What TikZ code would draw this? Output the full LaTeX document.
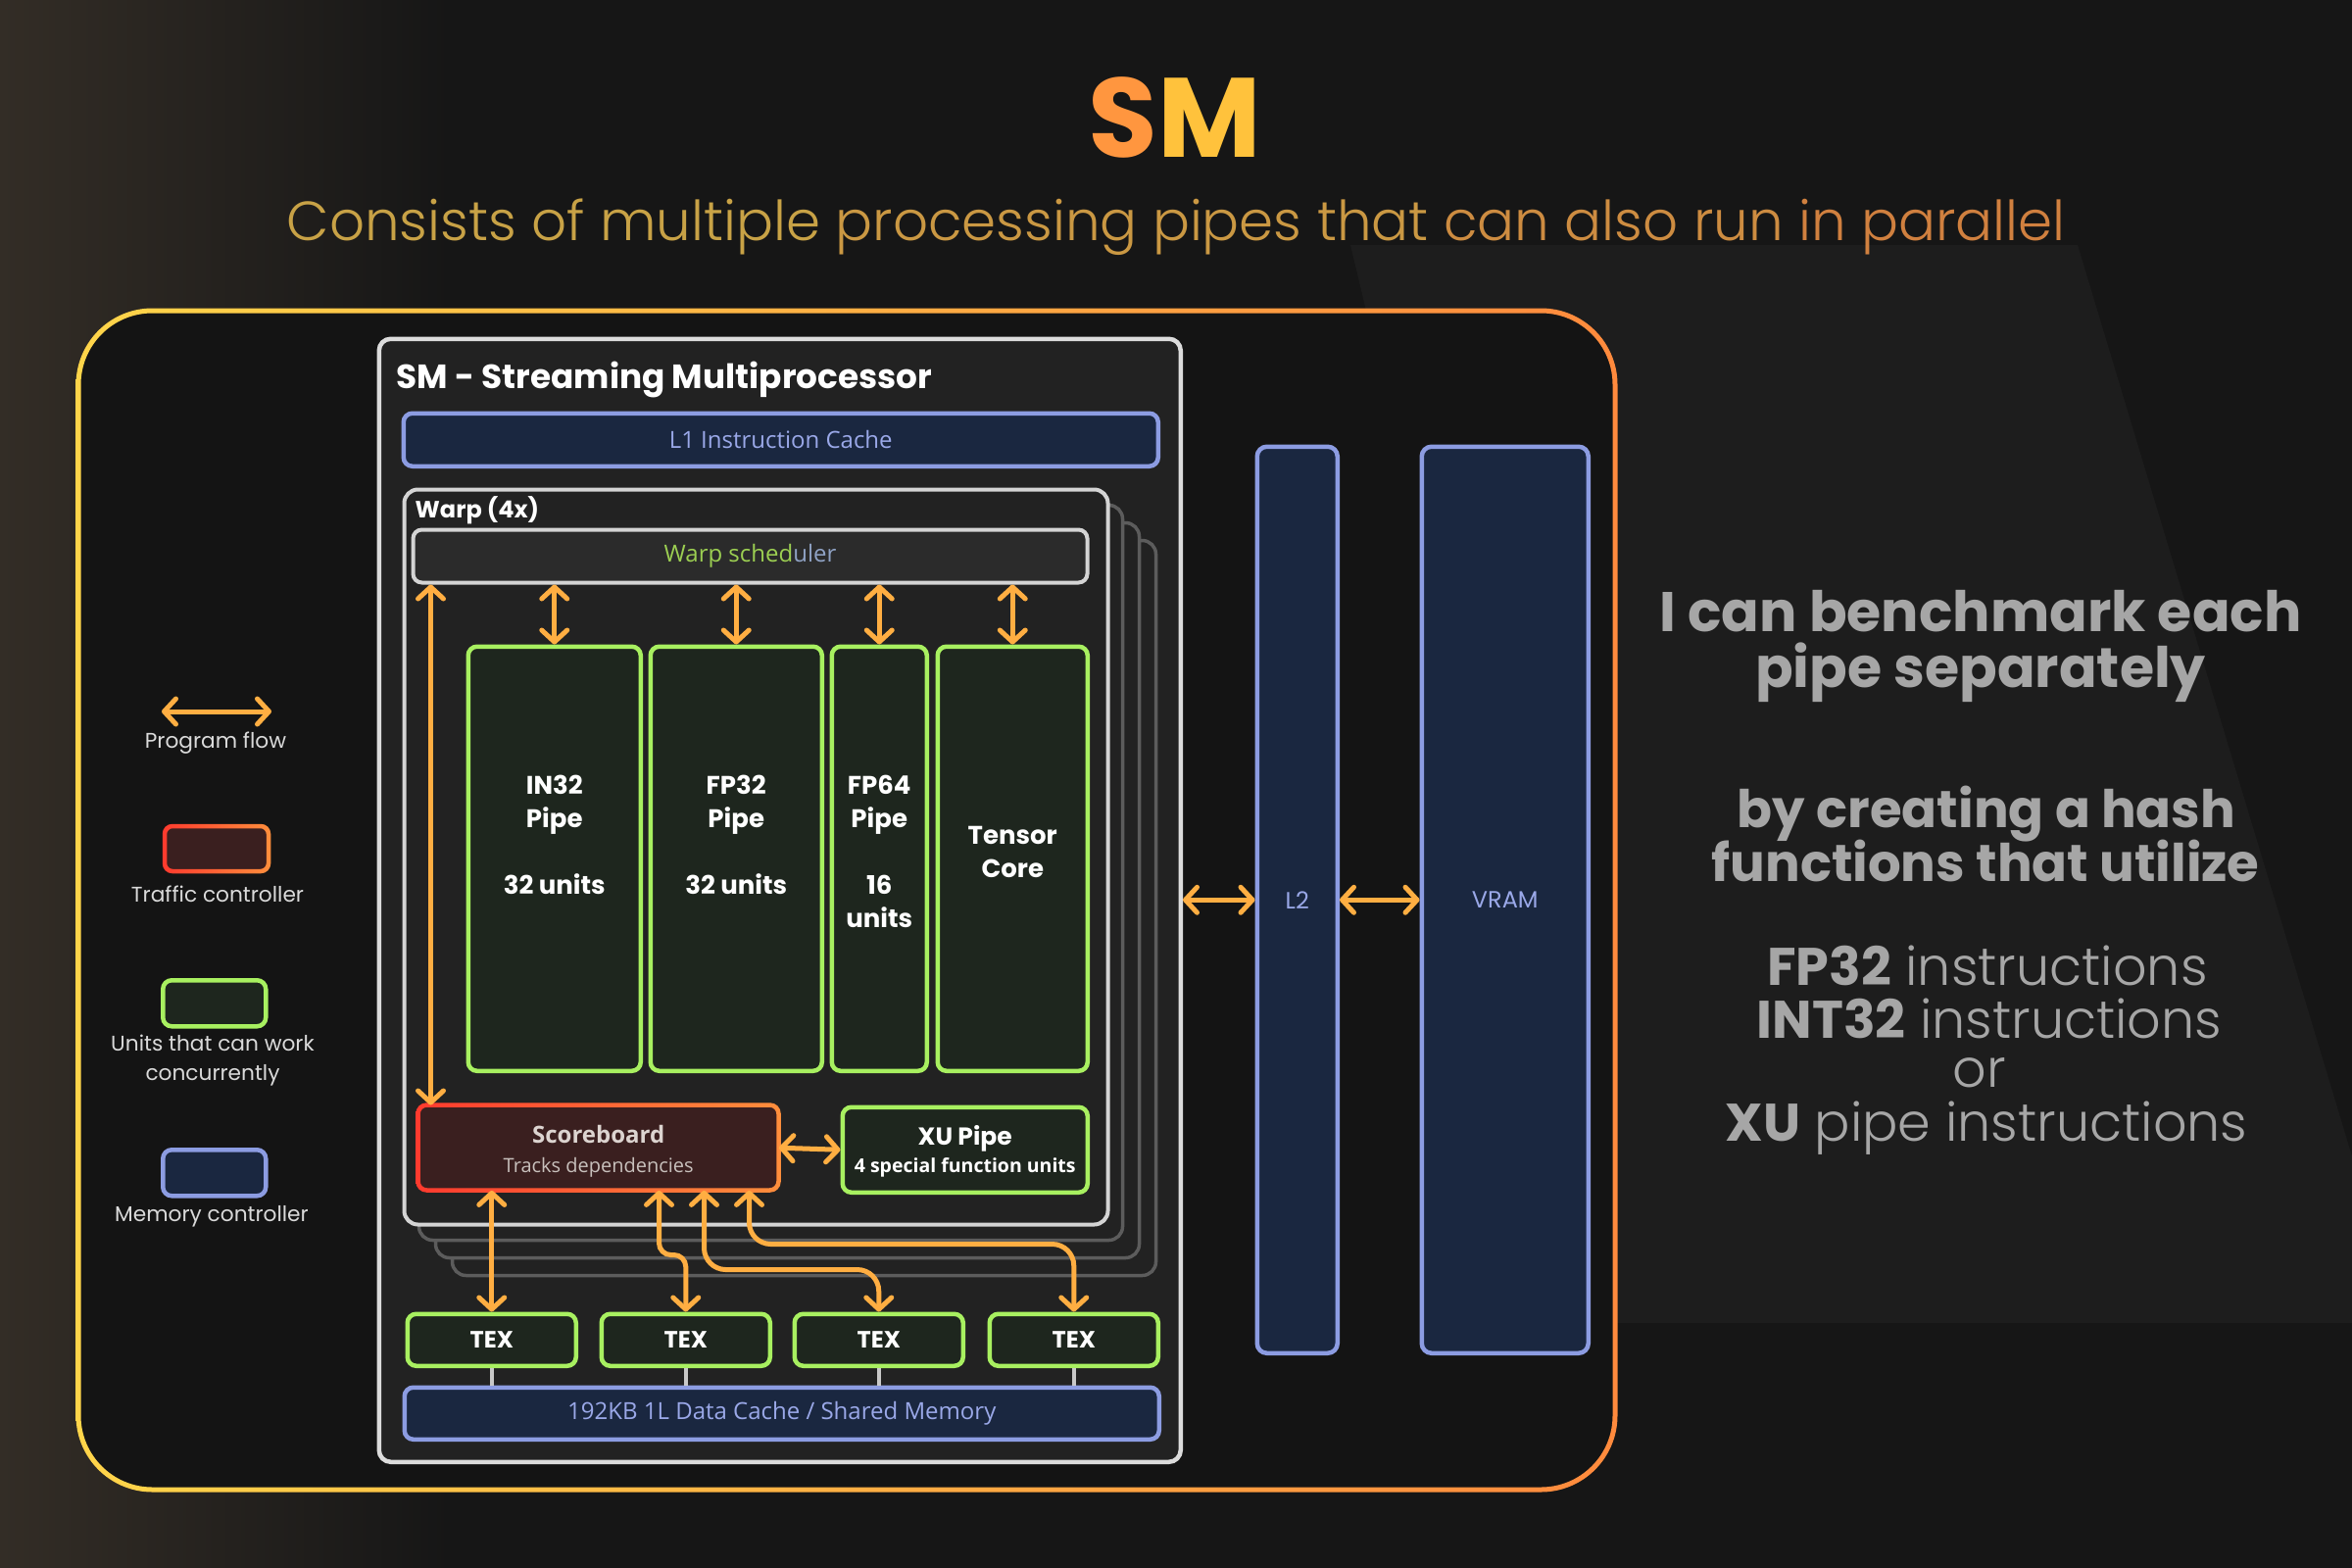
\documentclass[tikz,border=0pt]{standalone}
\usepackage{fontspec}
\setmainfont{Poppins}
\newfontfamily\plight{Poppins Light}
\newfontfamily\osans{Open Sans}
\usetikzlibrary{arrows.meta}
\definecolor{bgc}{HTML}{161616}
\definecolor{bgbrown}{HTML}{332D26}
\definecolor{bglight}{HTML}{1D1D1D}
\definecolor{framein}{HTML}{141414}
\definecolor{frameY}{HTML}{FFD54A}
\definecolor{frameO}{HTML}{FF8A3D}
\definecolor{smfill}{HTML}{222222}
\definecolor{smline}{HTML}{DCDCDC}
\definecolor{warpback}{HTML}{5C5C5C}
\definecolor{warpfront}{HTML}{D4D4D4}
\definecolor{schedfill}{HTML}{2B2B2B}
\definecolor{pipeg}{HTML}{A8F060}
\definecolor{pipefill}{HTML}{1E261E}
\definecolor{memline}{HTML}{8C9CE2}
\definecolor{memfill}{HTML}{1A2740}
\definecolor{memtext}{HTML}{9AA8E8}
\definecolor{flowc}{HTML}{FFAE42}
\definecolor{sbred}{HTML}{FF3A2E}
\definecolor{sborange}{HTML}{FF8E3C}
\definecolor{sbfill}{HTML}{3A1F1F}
\definecolor{greytext}{HTML}{A6A6A6}
\definecolor{schedgreen}{HTML}{9CCF52}
\definecolor{schedblue}{HTML}{8FA2C4}
\definecolor{legtext}{HTML}{DADADA}
\definecolor{titleS}{HTML}{FF963F}
\definecolor{titleM}{HTML}{FFC23C}
\definecolor{subA}{HTML}{C8A246}
\definecolor{subB}{HTML}{CA9843}
\definecolor{subC}{HTML}{CD8C41}
\definecolor{subD}{HTML}{D0803F}
\definecolor{conn}{HTML}{C8C8C8}
\begin{document}
\begin{tikzpicture}[x=1pt,y=-1pt,
  ft/.tip={Straight Barb[length=12pt,width=26pt,round]},
  flow/.style={draw=flowc, line width=5pt, ft-ft},
  pipebox/.style={draw=pipeg, fill=pipefill, line width=4.5pt, rounded corners=9pt, anchor=north west, inner sep=0pt},
  membox/.style={draw=memline, fill=memfill, line width=4.5pt, rounded corners=9pt, anchor=north west, inner sep=0pt, text=memtext},
  pipetxt/.style={align=center, text=white, font=\bfseries\fontsize{26}{34}\selectfont, inner sep=0pt},
  legtxt/.style={align=center, text=legtext, font=\fontsize{21.7}{30}\selectfont, inner sep=0pt},
  rtbold/.style={anchor=base, text=greytext, inner sep=0pt},
  warpbk/.style={draw=warpback, fill=smfill, line width=3.5pt, rounded corners=14pt}
]
\useasboundingbox (0,0) rectangle (2400,1600);
% background
\fill[bgc] (0,0) rectangle (2400,1600);
\shade[left color=bgbrown, right color=bgc] (0,0) rectangle (460,1600);
\fill[bglight] (1378,250) -- (2120,250) -- (2400,1180) -- (2400,1350) -- (1640,1350) -- cycle;

% title
\node[inner sep=0pt, font=\bfseries\fontsize{115}{120}\selectfont] (title) at (1199,120) {\textcolor{titleS}{S}\textcolor{titleM}{M}};
\node[anchor=base, inner sep=0pt, font=\plight\fontsize{56.3}{60}\selectfont] (subtitle) at (1200,245)
  {\textcolor{subA}{Consists of multiple} \textcolor{subB}{processing pipes that} \textcolor{subC}{can also run} \textcolor{subD}{in parallel}};

% outer frame
\fill[framein, rounded corners=76pt] (80,317) rectangle (1648,1520);
\path[left color=frameY, right color=frameO, even odd rule, rounded corners=78pt]
  (77.5,314.5) rectangle (1650.5,1522.5) [rounded corners=73pt] (82.5,319.5) rectangle (1645.5,1517.5);

% legend
\coordinate (pfa) at (165,726);
\coordinate (pfb) at (277,726);
\draw[flow] (pfa) -- (pfb);
\node[legtxt] (lpf) at (220,758) {Program flow};
\node[fill=sbfill, rounded corners=8pt, minimum width=106pt, minimum height=46pt, anchor=north west, inner sep=0pt] (legtc) at (168,843) {};
\path[left color=sbred, right color=sborange, even odd rule, rounded corners=10pt]
  (165.75,840.75) rectangle (276.25,891.25) [rounded corners=6pt] (170.25,845.25) rectangle (271.75,886.75);
\node[legtxt] (ltc) at (222,912) {Traffic controller};
\node[pipebox, minimum width=105pt, minimum height=47pt] (leggr) at (164,998) {};
\node[legtxt] (lgr) at (217,1082) {Units that can work\\concurrently};
\node[membox, minimum width=105pt, minimum height=47pt] (legmem) at (164,1171) {};
\node[legtxt] (lmem) at (216,1241) {Memory controller};

\begin{scope}[xshift=-2.5pt, yshift=2.5pt]
% SM box
\node[draw=smline, fill=smfill, line width=4.5pt, rounded corners=12pt, minimum width=818pt, minimum height=1146pt, anchor=north west, inner sep=0pt] (sm) at (387,346) {};
\node[anchor=base west, inner sep=0pt, text=white, font=\bfseries\fontsize{34.3}{38}\selectfont] (smtitle) at (407,399) {SM - Streaming Multiprocessor};
\node[membox, minimum width=770pt, minimum height=54pt, font=\osans\fontsize{24}{28}\selectfont] (l1) at (412,422) {L1 Instruction Cache};

% warp layers
\draw[warpbk] (464,554) rectangle +(718,750);
\draw[warpbk] (447,536) rectangle +(718,750);
\draw[warpbk] (430,518) rectangle +(718,750);
\node[draw=warpfront, fill=smfill, line width=4pt, rounded corners=14pt, minimum width=718pt, minimum height=750pt, anchor=north west, inner sep=0pt] (warp) at (413,500) {};
\node[anchor=base west, inner sep=0pt, text=white, font=\bfseries\fontsize{24}{28}\selectfont] (warplbl) at (426,531) {Warp (4x)};
\node[draw=warpfront, fill=schedfill, line width=4pt, rounded corners=9pt, minimum width=688pt, minimum height=54pt, anchor=north west, inner sep=0pt, font=\osans\fontsize{24}{28}\selectfont] (sched) at (422,541) {\textcolor{schedgreen}{Warp sched}\textcolor{schedblue}{uler}};

% pipes
\node[pipebox, minimum width=176pt, minimum height=433pt] (in32) at (478,660) {};
\node[pipebox, minimum width=175pt, minimum height=433pt] (fp32) at (664,660) {};
\node[pipebox, minimum width=97pt, minimum height=433pt] (fp64) at (849,660) {};
\node[pipebox, minimum width=153pt, minimum height=433pt] (tensor) at (957,660) {};
\node[pipetxt] (in32t) at ([yshift=24pt]in32.center) {IN32\\Pipe\\[34pt]32 units};
\node[pipetxt] (fp32t) at ([yshift=24pt]fp32.center) {FP32\\Pipe\\[34pt]32 units};
\node[pipetxt] (fp64t) at ([yshift=7pt]fp64.center) {FP64\\Pipe\\[34pt]16\\units};
\node[pipetxt] (tensort) at ([yshift=7pt]tensor.center) {Tensor\\Core};

\draw[flow] (sched.south -| in32.north) -- (in32.north);
\draw[flow] (sched.south -| fp32.north) -- (fp32.north);
\draw[flow] (sched.south -| fp64.north) -- (fp64.north);
\draw[flow] (sched.south -| tensor.north) -- (tensor.north);

% scoreboard and XU
\node[fill=sbfill, rounded corners=9pt, minimum width=368pt, minimum height=87pt, anchor=north west, inner sep=0pt] (sb) at (429,1130) {};
\path[left color=sbred, right color=sborange, even odd rule, rounded corners=11pt]
  (426.75,1127.75) rectangle (799.25,1219.25) [rounded corners=7pt] (431.25,1132.25) rectangle (794.75,1214.75);
\node[inner sep=0pt, align=center, font=\osans\fontsize{24}{30}\selectfont] (sbt) at ([yshift=-4pt]sb.center)
  {\textcolor[HTML]{DCD4D0}{\bfseries Scoreboard}\\\textcolor[HTML]{C8C0BC}{\fontsize{20}{22}\selectfont Tracks dependencies}};
\node[pipebox, minimum width=250pt, minimum height=87pt] (xu) at (860,1130) {};
\node[inner sep=0pt, align=center, text=white, font=\bfseries\fontsize{25}{28}\selectfont] (xut) at ([yshift=-2pt]xu.center)
  {XU Pipe\\{\osans\bfseries\fontsize{19.5}{20}\selectfont 4 special function units}};
\draw[flow] (sb.east) -- (xu.west);

\coordinate (lx) at (442,0);
\draw[flow] (sched.south -| lx) -- (sb.north -| lx);

% TEX units
\node[pipebox, minimum width=172pt, minimum height=53pt, text=white, font=\bfseries\fontsize{24}{28}\selectfont] (tex1) at (416,1341) {TEX};
\node[pipebox, minimum width=172pt, minimum height=53pt, text=white, font=\bfseries\fontsize{24}{28}\selectfont] (tex2) at (614,1341) {TEX};
\node[pipebox, minimum width=172pt, minimum height=53pt, text=white, font=\bfseries\fontsize{24}{28}\selectfont] (tex3) at (811,1341) {TEX};
\node[pipebox, minimum width=172pt, minimum height=53pt, text=white, font=\bfseries\fontsize{24}{28}\selectfont] (tex4) at (1010,1341) {TEX};
\node[membox, minimum width=770pt, minimum height=53pt, font=\osans\fontsize{24}{28}\selectfont] (cache) at (413,1416) {192KB 1L Data Cache / Shared Memory};
\foreach \t in {tex1,tex2,tex3,tex4}
  \draw[conn, line width=4pt] (\t.south) -- (\t.south |- cache.north);

\draw[flow] (sb.south -| tex1.north) -- (tex1.north);
\coordinate (j2) at (675,1283);
\coordinate (j3) at (721,1298);
\coordinate (j4) at (767,1272);
\draw[flow, rounded corners=12pt] (sb.south -| j2) -- (j2) -- (j2 -| tex2.north) -- (tex2.north);
\draw[flow, rounded corners=22pt] (sb.south -| j3) -- (j3) -- (j3 -| tex3.north) -- (tex3.north);
\draw[flow, rounded corners=22pt] (sb.south -| j4) -- (j4) -- (j4 -| tex4.north) -- (tex4.north);

% L2 and VRAM
\node[membox, minimum width=82pt, minimum height=925pt, rounded corners=10pt, font=\fontsize{24}{28}\selectfont] (l2) at (1283,456) {L2};
\node[membox, minimum width=170pt, minimum height=925pt, rounded corners=10pt, font=\fontsize{24}{28}\selectfont] (vram) at (1451,456) {VRAM};
\draw[flow] (l2.west -| sm.east) -- (l2.west);
\draw[flow] (l2.east) -- (vram.west);
\end{scope}

% right text
\node[rtbold, font=\bfseries\fontsize{57}{60}\selectfont] (r1) at (2021,644) {I can benchmark each};
\node[rtbold, font=\bfseries\fontsize{57}{60}\selectfont] (r2) at (2021,701) {pipe separately};
\node[rtbold, font=\bfseries\fontsize{53}{56}\selectfont] (r3) at (2027,844) {by creating a hash};
\node[rtbold, font=\bfseries\fontsize{53}{56}\selectfont] (r4) at (2026,899) {functions that utilize};
\node[rtbold, font=\fontsize{54}{56}\selectfont] (r5) at (2028,1005) {{\bfseries FP32} {\plight instructions}};
\node[rtbold, font=\fontsize{54}{56}\selectfont] (r6) at (2030,1059) {{\bfseries INT32} {\plight instructions}};
\node[rtbold, font=\plight\fontsize{54}{56}\selectfont] (r7) at (2020,1109) {or};
\node[rtbold, font=\fontsize{54}{56}\selectfont] (r8) at (2027,1164) {{\bfseries XU} {\plight pipe instructions}};
\end{tikzpicture}
\end{document}
